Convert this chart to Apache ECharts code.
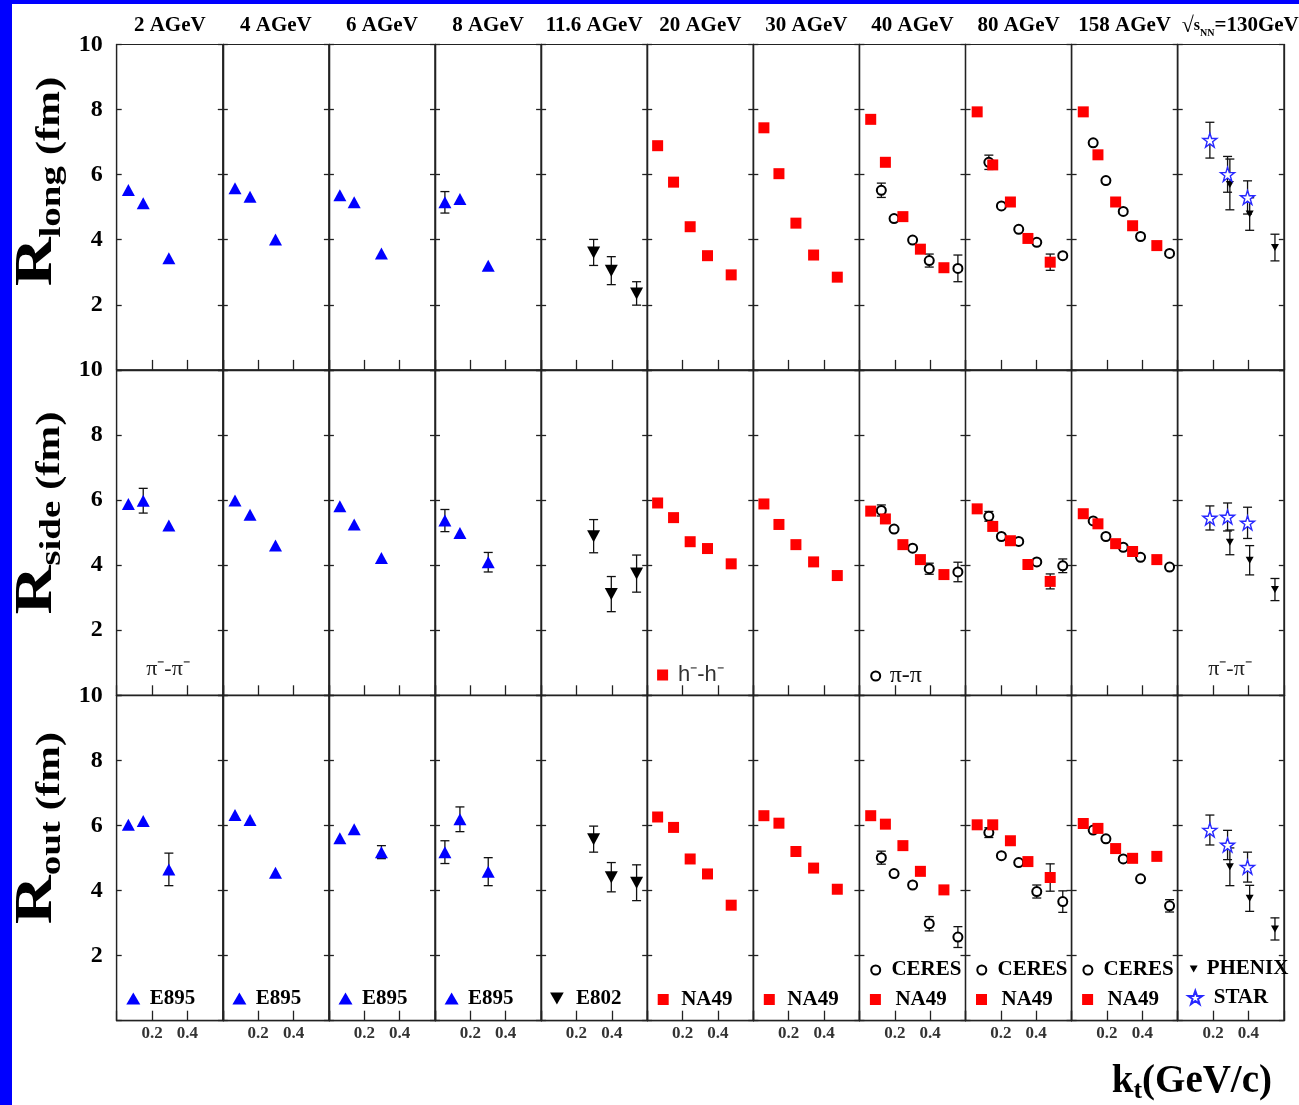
<!DOCTYPE html>
<html><head><meta charset="utf-8">
<script src="https://cdn.jsdelivr.net/npm/echarts@6/dist/echarts.min.js"></script>
<style>html,body{margin:0;padding:0;background:#fff}#c{width:1299px;height:1105px}</style>
</head><body><div id="c"></div>
<script>
// ================= DATA =================
const energies = ['2 AGeV','4 AGeV','6 AGeV','8 AGeV','11.6 AGeV','20 AGeV','30 AGeV','40 AGeV','80 AGeV','158 AGeV'];
const rhicLabel = ['√', 's', 'NN', '=130GeV'];
const rowSubs = ['long','side','out'];
const yTickLabels = [2,4,6,8,10];
const xTickLabels = [0.2,0.4];

// E895 (columns 0-3), blue up-triangles
const E895_kt   = [[0.066,0.150,0.295],[0.069,0.154,0.298],[0.062,0.143,0.297],[0.056,0.141,0.301]];
const E895_long = [[5.53,5.12,3.43],[5.58,5.32,4.01],[5.37,5.15,3.58],[5.15,5.25,3.20]];
const E895_long_err = [[0,0,0],[0,0,0],[0,0,0],[0.33,0,0]];
const E895_side = [[5.88,5.98,5.22],[5.99,5.55,4.60],[5.81,5.25,4.22],[5.37,4.99,4.09]];
const E895_side_err = [[0,0.38,0],[0,0,0],[0,0,0],[0.34,0,0.30]];
const E895_out  = [[6.02,6.14,4.65],[6.32,6.17,4.55],[5.61,5.88,5.18],[5.18,6.19,4.58]];
const E895_out_err = [[0,0,0.50],[0,0,0],[0,0,0.20],[0.35,0.38,0.43]];

// E802 (column 4), black down-triangles
const E802_kt   = [[0.297,0.397,0.540]];
const E802_long = [[3.61,3.05,2.35]];
const E802_long_err = [[0.40,0.43,0.36]];
const E802_side = [[4.89,3.11,3.74]];
const E802_side_err = [[0.51,0.54,0.57]];
const E802_out  = [[5.58,4.41,4.24]];
const E802_out_err = [[0.40,0.45,0.55]];

// NA49 (columns 5-9), red squares
const NA49_kt   = [[0.059,0.149,0.243,0.341,0.475],[0.060,0.145,0.241,0.341,0.475],[0.064,0.147,0.246,0.345,0.478],[0.066,0.154,0.254,0.353,0.479],[0.066,0.149,0.249,0.345,0.482]];
const NA49_long = [[6.89,5.77,4.40,3.51,2.92],[7.44,6.03,4.51,3.53,2.85],[7.70,6.38,4.71,3.71,3.14],[7.93,6.30,5.16,4.04,3.31],[7.93,6.61,5.16,4.43,3.82]];
const NA49_long_err = [[0,0,0,0,0],[0,0,0,0,0],[0,0,0,0,0],[0,0,0,0,0.25],[0,0,0,0,0]];
const NA49_side = [[5.91,5.46,4.72,4.51,4.04],[5.88,5.25,4.63,4.10,3.68],[5.66,5.42,4.63,4.17,3.71],[5.73,5.19,4.75,4.02,3.50],[5.58,5.27,4.66,4.42,4.17]];
const NA49_side_err = [[0,0,0,0,0],[0,0,0,0,0],[0,0,0,0,0],[0,0,0,0,0.23],[0,0,0,0,0]];
const NA49_out  = [[6.26,5.94,4.97,4.51,3.55],[6.30,6.07,5.20,4.69,4.04],[6.30,6.04,5.38,4.59,4.02],[6.02,6.02,5.53,4.89,4.40],[6.06,5.91,5.29,4.99,5.05]];
const NA49_out_err = [[0,0,0,0,0],[0,0,0,0,0],[0,0,0,0,0],[0,0,0,0,0.42],[0,0,0,0,0]];

// CERES (columns 7-9), open circles
const CERES_kt   = [[0.124,0.196,0.301,0.395,0.557],[0.132,0.203,0.301,0.403,0.550],[0.122,0.194,0.292,0.390,0.554]];
const CERES_long = [[5.52,4.65,3.99,3.36,3.12],[6.38,5.04,4.32,3.92,3.51],[6.98,5.82,4.87,4.10,3.58]];
const CERES_long_err = [[0.22,0,0,0.20,0.41],[0.22,0,0,0,0],[0,0,0,0,0]];
const CERES_side = [[5.68,5.11,4.52,3.89,3.79],[5.50,4.88,4.73,4.10,3.98],[5.36,4.88,4.55,4.24,3.94]];
const CERES_side_err = [[0.17,0,0,0.17,0.30],[0.15,0,0,0,0.21],[0,0,0,0,0]];
const CERES_out  = [[5.01,4.52,4.17,2.98,2.57],[5.78,5.07,4.86,3.97,3.66],[5.86,5.59,4.97,4.36,3.53]];
const CERES_out_err = [[0.20,0,0,0.22,0.32],[0.15,0,0,0.20,0.33],[0,0,0,0,0.19]];

// STAR (column 10), open stars
const STAR_kt   = [[0.182,0.282,0.395]];
const STAR_long = [[7.06,6.01,5.30]];
const STAR_long_err = [[0.55,0.55,0.51]];
const STAR_side = [[5.45,5.48,5.30]];
const STAR_side_err = [[0.37,0.43,0.48]];
const STAR_out  = [[5.86,5.40,4.72]];
const STAR_out_err = [[0.46,0.45,0.46]];

// PHENIX (column 10), small black down-triangles
const PHENIX_kt   = [[0.295,0.407,0.550]];
const PHENIX_long = [[5.70,4.79,3.76]];
const PHENIX_long_err = [[0.78,0.50,0.41]];
const PHENIX_side = [[4.70,4.15,3.25]];
const PHENIX_side_err = [[0.38,0.45,0.34]];
const PHENIX_out  = [[4.73,3.76,2.82]];
const PHENIX_out_err = [[0.58,0.40,0.34]];

// ================= LAYOUT / STYLE =================
const SERIF = '"Liberation Serif","Times New Roman",serif';
const L0 = 116.7, PW = 106.1, PH = 325.4;
const TOPS = [44.5, 369.9, 695.3];
const NCOL = 11, NROW = 3;
const panelLeft = c => L0 + c * PW;

const STAR_PATH = 'path://M50,0L61.8,34.5L97.6,34.5L68.7,55.9L79.4,90.5L50,69.1L20.6,90.5L31.3,55.9L2.4,34.5L38.2,34.5Z';
const DOWN_TRI = 'path://M0,0L100,0L50,88Z';
const styles = {
  E895:  {symbol:'triangle', symbolSize:[13,12], itemStyle:{color:'#0000ff', opacity:1}},
  E802:  {symbol:DOWN_TRI, symbolSize:[13,12], itemStyle:{color:'#000', opacity:1}},
  NA49:  {symbol:'rect', symbolSize:11, itemStyle:{color:'#ff0000', opacity:1}},
  CERES: {symbol:'emptyCircle', symbolSize:9, itemStyle:{color:'#000', borderWidth:1.6, opacity:1}},
  PHENIX:{symbol:DOWN_TRI, symbolSize:[8,7], itemStyle:{color:'#000', opacity:1}},
  STAR:  {symbol:STAR_PATH, symbolSize:14, itemStyle:{color:'#fff', borderColor:'#2828ff', borderWidth:1.4, opacity:1}}
};

const sets = [
  {name:'E895', cols:[0,1,2,3], kt:E895_kt, vals:[E895_long,E895_side,E895_out], errs:[E895_long_err,E895_side_err,E895_out_err]},
  {name:'E802', cols:[4], kt:E802_kt, vals:[E802_long,E802_side,E802_out], errs:[E802_long_err,E802_side_err,E802_out_err]},
  {name:'CERES', cols:[7,8,9], kt:CERES_kt, vals:[CERES_long,CERES_side,CERES_out], errs:[CERES_long_err,CERES_side_err,CERES_out_err]},
  {name:'NA49', cols:[5,6,7,8,9], kt:NA49_kt, vals:[NA49_long,NA49_side,NA49_out], errs:[NA49_long_err,NA49_side_err,NA49_out_err]},
  {name:'PHENIX', cols:[10], kt:PHENIX_kt, vals:[PHENIX_long,PHENIX_side,PHENIX_out], errs:[PHENIX_long_err,PHENIX_side_err,PHENIX_out_err]},
  {name:'STAR', cols:[10], kt:STAR_kt, vals:[STAR_long,STAR_side,STAR_out], errs:[STAR_long_err,STAR_side_err,STAR_out_err]}
];

// ================= BUILD =================
const grid = [], xAxis = [], yAxis = [], series = [];
for (let r = 0; r < NROW; r++) {
  for (let c = 0; c < NCOL; c++) {
    const g = r * NCOL + c;
    grid.push({left: panelLeft(c), top: TOPS[r], width: PW, height: PH,
      show: true, borderColor: '#222', borderWidth: 1});
    xAxis.push({gridIndex: g, type: 'value', min: 0, max: 0.6, interval: 0.2,
      axisLine: {show: true, onZero: false, lineStyle: {color: '#222', width: 1.3}},
      axisTick: {show: true, inside: true, length: 10, lineStyle: {color: '#222', width: 1.3}},
      axisLabel: {show: r === NROW - 1, margin: 4, fontFamily: SERIF, fontWeight: 'bold', fontSize: 17, color: '#333',
        formatter: v => xTickLabels.some(t => Math.abs(t - v) < 1e-6) ? v.toFixed(1) : ''},
      splitLine: {show: false}});
    const yBase = {gridIndex: g, type: 'value', min: 0, max: 10, interval: 2,
      axisLine: {show: true, onZero: false, lineStyle: {color: '#222', width: 1.3}},
      axisTick: {show: true, inside: true, length: 5, lineStyle: {color: '#222', width: 1.3}},
      splitLine: {show: false}};
    yAxis.push(Object.assign({}, yBase, {position: 'left',
      axisLabel: {show: c === 0, margin: 14, fontFamily: SERIF, fontWeight: 'bold', fontSize: 24, color: '#000',
        formatter: v => yTickLabels.includes(v) ? String(v) : ''}}));
    yAxis.push(Object.assign({}, yBase, {position: 'right', axisLabel: {show: false}}));
  }
}

function errRender(params, api) {
  const x = api.value(0), y = api.value(1), e = api.value(2);
  const t = api.coord([x, y + e]), b = api.coord([x, y - e]);
  const cw = 4.5, st = {stroke: '#111', lineWidth: 1.3};
  return {type: 'group', children: [
    {type: 'line', shape: {x1: t[0], y1: t[1], x2: b[0], y2: b[1]}, style: st},
    {type: 'line', shape: {x1: t[0] - cw, y1: t[1], x2: t[0] + cw, y2: t[1]}, style: st},
    {type: 'line', shape: {x1: b[0] - cw, y1: b[1], x2: b[0] + cw, y2: b[1]}, style: st}
  ]};
}

sets.forEach(s => {
  s.cols.forEach((c, k) => {
    for (let r = 0; r < NROW; r++) {
      const g = r * NCOL + c;
      const kt = s.kt[k], v = s.vals[r][k], e = s.errs[r][k];
      const errData = kt.map((x, i) => [x, v[i], e[i]]).filter(d => d[2] > 0);
      if (errData.length) {
        series.push({type: 'custom', name: s.name + '-err', xAxisIndex: g, yAxisIndex: 2 * g,
          renderItem: errRender, encode: {x: 0, y: 1}, data: errData, z: 2, silent: true, clip: false});
      }
      series.push(Object.assign({type: 'scatter', name: s.name, xAxisIndex: g, yAxisIndex: 2 * g,
        data: kt.map((x, i) => [x, v[i]]), z: 3, silent: true}, styles[s.name]));
    }
  });
});

// legends: one item each
function mkLegend(name, c, cy, iconW, iconH, iconCx, textX, fmt, ts) {
  const left = panelLeft(c) + iconCx - iconW / 2;
  return {show: true, data: [{name: name, icon: styles[name].symbol}], selectedMode: false, orient: 'horizontal',
    left: left, top: cy - iconH / 2, padding: 0, itemWidth: iconW, itemHeight: iconH,
    formatter: fmt || (n => n),
    textStyle: Object.assign({fontFamily: SERIF, fontWeight: 'bold', fontSize: 21, color: '#000',
      padding: [0, 0, 0, Math.max(0, textX - iconCx - iconW / 2 - 5)]}, ts || {})};
}
const legend = [];
[0,1,2,3].forEach(c => legend.push(mkLegend('E895', c, 994, 14, 12, 16.6, 33)));
legend.push(mkLegend('E802', 4, 994, 14, 12, 16, 35));
[5,6].forEach(c => legend.push(mkLegend('NA49', c, 994.5, 11, 11, 16, 34)));
[7,8,9].forEach(c => {
  legend.push(mkLegend('CERES', c, 964, 9, 9, 15.3, 31));
  legend.push(mkLegend('NA49', c, 994.5, 11, 11, 16, 36));
});
legend.push(mkLegend('PHENIX', 10, 962, 8, 7, 16, 29));
legend.push(mkLegend('STAR', 10, 994, 14, 14, 16.6, 35));
// row 2 pair labels
legend.push(mkLegend('NA49', 5, 669.5, 11, 11, 15.4, 30.7, () => 'h⁻-h⁻',
  {fontFamily: '"Liberation Sans",Arial,sans-serif', fontWeight: 'normal', fontSize: 22, color: '#333'}));
legend.push(mkLegend('CERES', 7, 668.5, 9, 9, 15.3, 29.3, () => 'π-π',
  {fontWeight: 'normal', fontSize: 24, color: '#111'}));

// graphics: border strip, titles, axis titles
const graphic = [];
graphic.push({type: 'rect', left: 0, top: 0, shape: {width: 12, height: 1105}, style: {fill: '#0000ff'}, z: 100});
graphic.push({type: 'rect', left: 0, top: 0, shape: {width: 1299, height: 4}, style: {fill: '#0000ff'}, z: 100});
energies.forEach((t, c) => {
  graphic.push({type: 'text', x: panelLeft(c) + PW / 2, y: 26,
    style: {text: t, font: 'bold 21px ' + SERIF, fill: '#000', textAlign: 'center', textVerticalAlign: 'middle', align: 'center', verticalAlign: 'middle'}});
});
graphic.push({type: 'text', x: panelLeft(10) + 4, y: 26,
  style: {text: '{a|' + rhicLabel[0] + '}{s|' + rhicLabel[1] + '}{n|' + rhicLabel[2] + '}{b|' + rhicLabel[3] + '}',
    textAlign: 'left', textVerticalAlign: 'middle', align: 'left', verticalAlign: 'middle',
    rich: {
      a: {fontFamily: SERIF, fontSize: 22, fontWeight: 'bold', lineHeight: 24},
      s: {fontFamily: SERIF, fontSize: 16, fontWeight: 'bold', lineHeight: 24},
      n: {fontFamily: SERIF, fontSize: 10, fontWeight: 'bold', lineHeight: 16, verticalAlign: 'bottom'},
      b: {fontFamily: SERIF, fontSize: 21, fontWeight: 'bold', lineHeight: 24}
    }}});

const yTitleY = [181.5, 513, 828];
rowSubs.forEach((sub, r) => {
  graphic.push({type: 'text', x: 37.3, y: yTitleY[r], rotation: Math.PI / 2, scaleX: 1.3, scaleY: 1,
    style: {text: '{R|R}{s|' + sub + '}{f| (fm)}', textAlign: 'center', textVerticalAlign: 'middle', align: 'center', verticalAlign: 'middle',
      rich: {
        R: {fontFamily: SERIF, fontWeight: 'bold', fontSize: 52, lineHeight: 60, fill: '#000'},
        s: {fontFamily: SERIF, fontWeight: 'bold', fontSize: 30, lineHeight: 25, verticalAlign: 'bottom', fill: '#000'},
        f: {fontFamily: SERIF, fontWeight: 'bold', fontSize: 33, lineHeight: 47, verticalAlign: 'bottom', fill: '#000'}
      }}});
});
graphic.push({type: 'text', x: 1272, y: 1082,
  style: {text: '{k|k}{t|t}{g|(GeV/c)}', textAlign: 'right', textVerticalAlign: 'middle', align: 'right', verticalAlign: 'middle',
    rich: {
      k: {fontFamily: SERIF, fontWeight: 'bold', fontSize: 39, lineHeight: 44},
      t: {fontFamily: SERIF, fontWeight: 'bold', fontSize: 26, lineHeight: 20, verticalAlign: 'bottom'},
      g: {fontFamily: SERIF, fontWeight: 'bold', fontSize: 39, lineHeight: 44}
    }}});
// pi-pi labels (row 2, panels 1 and 11)
[[0, 168], [10, 1230]].forEach(([c, x]) => {
  graphic.push({type: 'text', x: x, y: 669,
    style: {text: 'π⁻-π⁻', font: '22px ' + SERIF, fill: '#222', textAlign: 'center', textVerticalAlign: 'middle', align: 'center', verticalAlign: 'middle'}});
});

const chart = echarts.init(document.getElementById('c'), null, {renderer: 'canvas'});
chart.setOption({backgroundColor: '#fff', animation: false, grid, xAxis, yAxis, series, legend, graphic});
</script></body></html>
